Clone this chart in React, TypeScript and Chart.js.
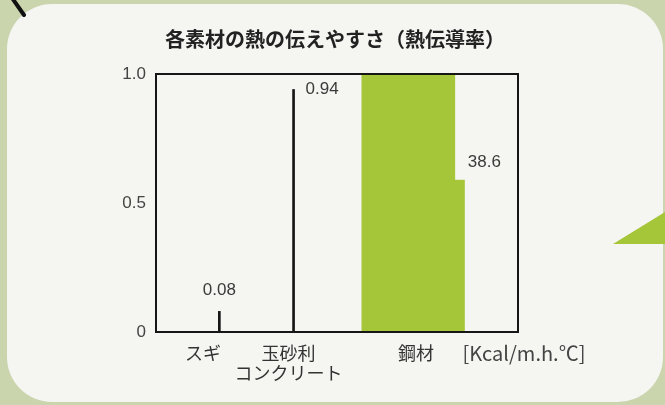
import { useEffect, useRef } from 'react';
import { Chart, registerables } from 'chart.js';

Chart.register(...registerables);

// Materials and their thermal conductivity [Kcal/m.h.℃]
const categories: (string | string[])[] = ['スギ', ['玉砂利', 'コンクリート'], '鋼材'];
const values = [0.08, 0.94, 38.6];
const yTicks = [0, 0.5, 1.0];
const yTickLabels = ['0', '0.5', '1.0'];
const unitLabel = '[Kcal/m.h.℃]';
const chartTitle = '各素材の熱の伝えやすさ（熱伝導率）';

// Layout on the hidden 0–10 horizontal axis
const barSlots = [1.75, 3.8, 6.97];
const labelSlots = [1.3, 3.66, 7.18];
// The steel bar runs off the axis; below this level it is drawn a little wider
const breakLevel = 0.59;
const notchWidth = 10;

const GREEN = '#a6c63a';
const INK = '#161616';
const TEXT = '#3a3a3a';
const NUM_FONT = '"Liberation Sans", Arial, sans-serif';
const JP_FONT = '"Noto Sans CJK JP", "Noto Sans", sans-serif';

const decorPlugin = {
  id: 'decor',
  afterDatasetsDraw(chart: any) {
    const { ctx, chartArea, scales } = chart;
    const y = scales.y;
    const thin = chart.getDatasetMeta(0).data;
    const steel = chart.getDatasetMeta(1).data[0].getProps(['x', 'width', 'base'], true);
    const breakY = y.getPixelForValue(breakLevel);
    const steelRight = steel.x + steel.width / 2;

    ctx.save();
    // wider lower part of the broken steel bar
    ctx.fillStyle = GREEN;
    ctx.fillRect(steelRight - 0.5, breakY, notchWidth + 0.5, steel.base - breakY);

    // plot frame
    ctx.strokeStyle = INK;
    ctx.lineWidth = 2;
    ctx.strokeRect(chartArea.left, chartArea.top, chartArea.width, chartArea.height);

    // value labels
    ctx.font = `17px ${NUM_FONT}`;
    ctx.fillStyle = TEXT;
    ctx.textBaseline = 'middle';
    const p0 = thin[0];
    ctx.textAlign = 'center';
    ctx.fillText(String(values[0]), p0.x, p0.y - 21);
    const p1 = thin[1];
    ctx.textAlign = 'left';
    ctx.fillText(String(values[1]), p1.x + 12, p1.y);
    ctx.fillText(String(values[2]), steelRight + 13, breakY - 17);

    // unit
    ctx.font = `20px ${JP_FONT}`;
    ctx.fillStyle = '#444';
    ctx.textAlign = 'center';
    ctx.fillText(unitLabel, chartArea.right + 6, chartArea.bottom + 21);
    ctx.restore();
  },
};

export default function App() {
  const canvasRef = useRef<HTMLCanvasElement>(null);

  useEffect(() => {
    const canvas = canvasRef.current;
    if (!canvas) return;
    const chart = new Chart(canvas, {
      type: 'bar',
      data: {
        datasets: [
          {
            data: [0, 1].map((i) => ({ x: barSlots[i], y: values[i] })),
            backgroundColor: INK,
            barThickness: 2,
            grouped: false,
          },
          {
            data: [{ x: barSlots[2], y: values[2] }],
            backgroundColor: GREEN,
            barThickness: 93,
            grouped: false,
          },
        ],
      },
      options: {
        responsive: false,
        maintainAspectRatio: false,
        devicePixelRatio: 1,
        animation: false,
        layout: { padding: { left: 119, right: 114, top: 0, bottom: 23 } },
        plugins: {
          legend: { display: false },
          tooltip: { enabled: false },
          title: {
            display: true,
            text: chartTitle,
            color: '#222',
            font: { family: JP_FONT, size: 20, weight: 'bold' },
            padding: { top: 27, bottom: 23 },
          },
        },
        scales: {
          x: {
            type: 'linear',
            min: 0,
            max: 10,
            offset: false,
            bounds: 'data',
            grid: { display: false, drawTicks: false, offset: false },
            border: { display: false },
            afterBuildTicks: (scale: any) => {
              scale.ticks = labelSlots.map((v) => ({ value: v }));
            },
            afterFit: (scale: any) => {
              scale.height = 50;
            },
            ticks: {
              autoSkip: false,
              maxRotation: 0,
              padding: 11,
              color: '#333',
              font: { family: JP_FONT, size: 18, lineHeight: 1.1 },
              callback: (_v: any, i: number) => categories[i],
            },
          },
          y: {
            min: 0,
            max: 1,
            grid: { display: false, drawTicks: false },
            border: { display: false },
            afterBuildTicks: (scale: any) => {
              scale.ticks = yTicks.map((v) => ({ value: v }));
            },
            afterFit: (scale: any) => {
              scale.width = 37;
            },
            ticks: {
              padding: 10,
              color: '#444',
              font: { family: NUM_FONT, size: 17 },
              callback: (v: any) => yTickLabels[yTicks.indexOf(Number(v))] ?? '',
            },
          },
          // empty right-hand axis that only reserves room, keeping the title centred
          yRight: {
            position: 'right',
            min: 0,
            max: 1,
            grid: { display: false, drawTicks: false },
            border: { display: false },
            ticks: { display: false },
            afterFit: (scale: any) => {
              scale.width = 33;
            },
          },
        },
      } as any,
      plugins: [decorPlugin],
    });
    return () => chart.destroy();
  }, []);

  return (
    <div
      style={{
        position: 'fixed',
        left: 0,
        top: 0,
        width: 665,
        height: 405,
        overflow: 'hidden',
        background: '#cad5ae',
      }}
    >
      <div
        style={{
          position: 'absolute',
          left: 7,
          top: 4,
          width: 656,
          height: 398,
          borderRadius: 45,
          background: '#f5f5f2',
        }}
      />
      <svg width={665} height={405} style={{ position: 'absolute', left: 0, top: 0 }}>
        <line x1={10} y1={-5} x2={24} y2={15} stroke="#111" strokeWidth={4} strokeLinecap="round" />
        <polygon points="613,244 665,212 665,244" fill={GREEN} />
      </svg>
      <canvas
        ref={canvasRef}
        width={665}
        height={405}
        style={{ position: 'absolute', left: 0, top: 0, width: 665, height: 405 }}
      />
    </div>
  );
}
